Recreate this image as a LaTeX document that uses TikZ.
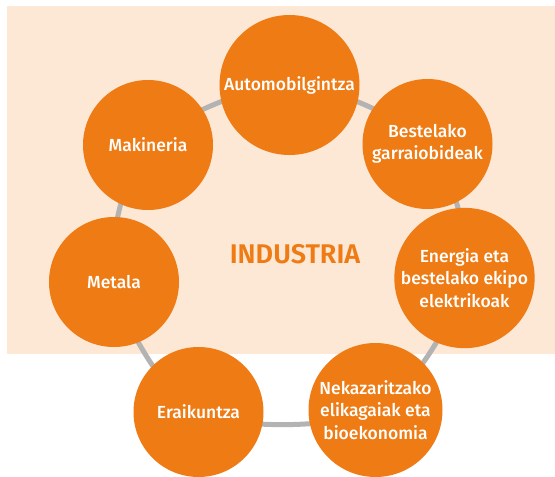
\documentclass[tikz,border=0pt]{standalone}
\usepackage{fontspec}
\setmainfont{Fira Sans}[UprightFont={* Medium}, BoldFont={* SemiBold}]
\usetikzlibrary{backgrounds}
\definecolor{peach}{HTML}{FDE7D5}
\definecolor{indorange}{HTML}{EE7B14}
\definecolor{ringgrey}{HTML}{B3B3B3}
\tikzset{
  sector/.style={circle, fill=indorange, text=white, inner sep=0pt, minimum size=130pt,
    align=center, font=\fontsize{17.5}{22.5}\selectfont},
  ring/.style={draw=ringgrey, line width=5pt},
  title/.style={text=indorange, font=\fontsize{27}{32}\selectfont\bfseries}
}
\begin{document}
\begin{tikzpicture}[x=1pt,y=-1pt]
\useasboundingbox (0,0) rectangle (555,477);
\node[sector, minimum size=140pt] (auto) at (289.5,85) {Automobilgintza};
\node[sector] (garr) at (427.5,144) {Bestelako\\garraiobideak};
\node[sector, minimum size=134pt] (ener) at (464.5,278) {Energia eta\\bestelako ekipo\\elektrikoak};
\node[sector, minimum size=134pt] (neka) at (375.5,410) {Nekazaritzako\\elikagaiak eta\\bioekonomia};
\node[sector] (erai) at (198.5,412) {Eraikuntza};
\node[sector] (meta) at (114,282) {Metala};
\node[sector] (maki) at (148,145) {Makineria};
\node[title] (ind) at (295,254) {INDUSTRIA};
\begin{scope}[on background layer]
  \fill[peach] (7,6) rectangle (555,354);
  \draw[ring] plot[smooth cycle, tension=0.5] coordinates {(auto.center) (garr.center) (ener.center) (neka.center) (erai.center) (meta.center) (maki.center)};
\end{scope}
\end{tikzpicture}
\end{document}
